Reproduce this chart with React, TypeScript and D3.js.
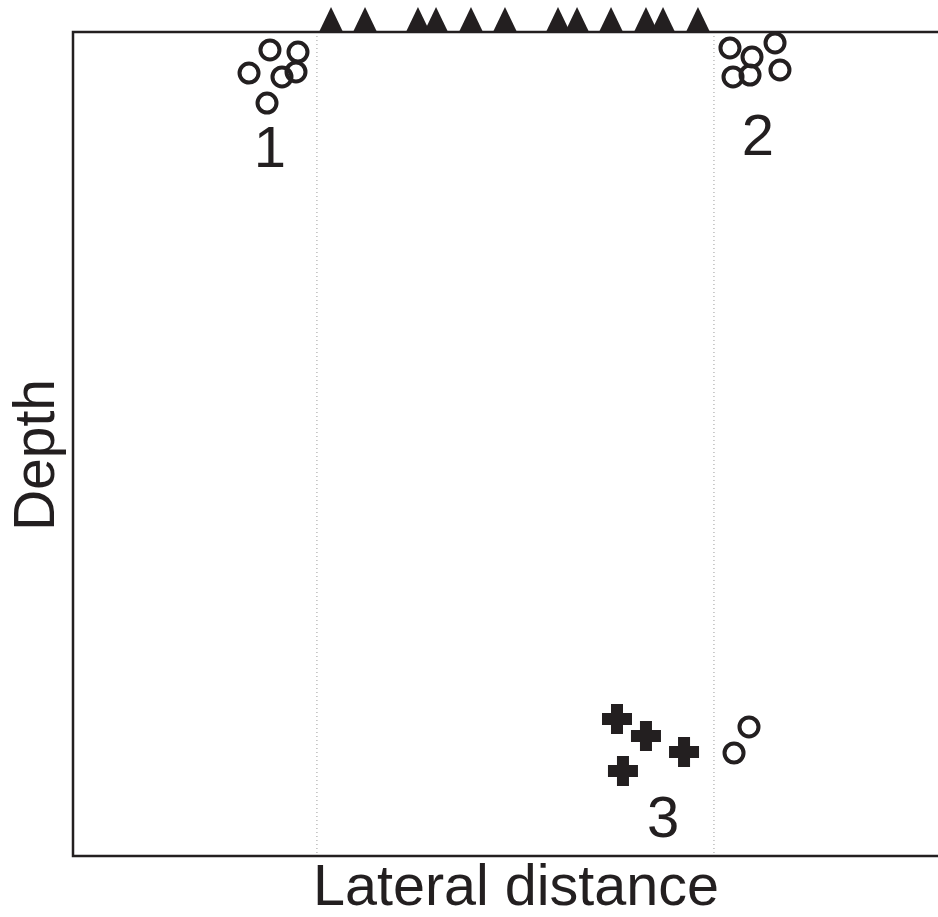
import React from "react";
import * as d3 from "d3";

// Data (lateral distance in km, depth in km)
const stationX = [2.983, 3.376, 3.988, 4.197, 4.601, 4.994, 5.607, 5.827, 6.22, 6.624, 6.821, 7.225];
const boundaryX = [2.82, 7.41];
const circleX = [2.277, 2.601, 2.035, 2.416, 2.578, 2.243, 7.595, 8.116, 7.85, 7.63, 7.827, 8.173, 7.815, 7.642];
const circleY = [0.218, 0.243, 0.498, 0.546, 0.485, 0.862, 0.194, 0.133, 0.303, 0.546, 0.522, 0.461, 8.434, 8.75];
const crossX = [6.289, 6.624, 7.064, 6.358];
const crossY = [8.337, 8.544, 8.738, 8.968];
const clusterLabels = ["1", "2", "3"];
const clusterLabelX = [2.277, 7.919, 6.821];
const clusterLabelY = [1.638, 1.493, 9.769];

const W = 938;
const H = 917;
const L = 73, T = 32, R = 940, B = 856;

export default function App() {
  const x = d3.scaleLinear().domain([0, 10]).range([L, L + 865]);
  const y = d3.scaleLinear().domain([0, 10]).range([T, B]);
  const triPath = (cx: number) => `M${cx},${T - 25} L${cx + 12},${T} L${cx - 12},${T} Z`;
  const crossPath = (cx: number, cy: number) => {
    const a = 15, b = 6;
    return `M${cx - b},${cy - a}H${cx + b}V${cy - b}H${cx + a}V${cy + b}H${cx + b}V${cy + a}H${cx - b}V${cy + b}H${cx - a}V${cy - b}H${cx - b}Z`;
  };
  return (
    <svg width={W} height={H} style={{ position: "absolute", left: 0, top: 0, background: "#fff" }}
      fontFamily="'Liberation Sans', Arial, sans-serif">
      {boundaryX.map((b, i) => (
        <line key={i} x1={x(b)} x2={x(b)} y1={T} y2={B} stroke="#9a9a9a" strokeWidth={1} strokeDasharray="1,3" />
      ))}
      <path d={`M${R},${T}H${L}V${B}H${R}`} fill="none" stroke="#231f20" strokeWidth={2.5} />
      {stationX.map((s, i) => (
        <path key={i} d={triPath(x(s))} fill="#231f20" />
      ))}
      {circleX.map((cx, i) => (
        <circle key={i} cx={x(cx)} cy={y(circleY[i])} r={9.5} fill="none" stroke="#231f20" strokeWidth={4} />
      ))}
      {crossX.map((cx, i) => (
        <path key={i} d={crossPath(x(cx), y(crossY[i]))} fill="#231f20" />
      ))}
      {clusterLabels.map((t, i) => (
        <text key={i} x={x(clusterLabelX[i])} y={y(clusterLabelY[i])} fontSize={58} textAnchor="middle" fill="#231f20">{t}</text>
      ))}
      <text x={516} y={905} fontSize={57.5} textAnchor="middle" fill="#231f20">Lateral distance</text>
      <text transform="translate(54,455) rotate(-90)" fontSize={57} textAnchor="middle" fill="#231f20">Depth</text>
    </svg>
  );
}
